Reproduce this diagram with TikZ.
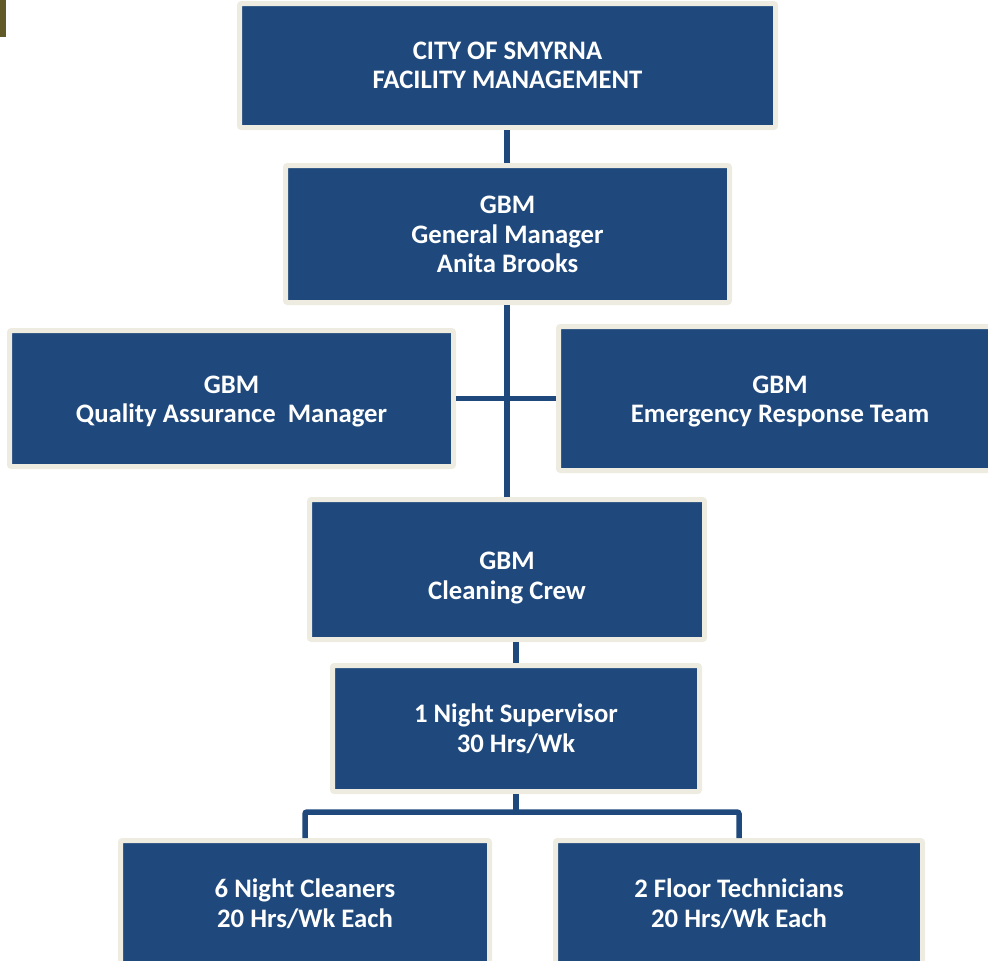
\documentclass[tikz,border=0pt]{standalone}
\usepackage{fontspec}
\setmainfont{Carlito}
\definecolor{boxblue}{RGB}{31,73,125}
\definecolor{boxcream}{RGB}{238,236,225}
\definecolor{olivemark}{RGB}{98,90,38}
\begin{document}
\begin{tikzpicture}[x=1pt,y=-1pt,
  orgbox/.style={draw=boxcream,fill=boxblue,line width=5pt,rounded corners=2pt,inner sep=0pt},
  boxtext/.style={text=white,align=center,inner sep=0pt,
    font=\fontsize{26.7}{29.5}\selectfont\bfseries},
  link/.style={draw=boxblue,line width=5.5pt}]
\useasboundingbox (0,0) rectangle (988,961);
\clip (0,0) rectangle (988,961);
\fill[olivemark] (0,0) rectangle (6,37);
\node[orgbox,minimum width=536pt,minimum height=124pt,
  label={[boxtext]center:{CITY OF SMYRNA\\FACILITY MANAGEMENT}}] (top) at (507.5,65.5) {};
\node[orgbox,minimum width=444pt,minimum height=137pt,
  label={[boxtext,yshift=-0.5pt]center:{GBM\\General Manager\\Anita Brooks}}] (gm) at (507.5,234) {};
\node[orgbox,minimum width=444pt,minimum height=136pt,
  label={[boxtext,yshift=-3pt]center:{GBM\\Quality Assurance\ \ Manager}}] (qa) at (231.5,398.5) {};
\node[orgbox,minimum width=443pt,minimum height=144pt,
  label={[boxtext,yshift=-3pt]center:{GBM\\Emergency Response Team}}] (ert) at (780,398.5) {};
\node[orgbox,minimum width=395pt,minimum height=140pt,
  label={[boxtext,yshift=-8.5pt]center:{GBM\\Cleaning Crew}}] (cc) at (507,569.5) {};
\node[orgbox,minimum width=367pt,minimum height=126pt,
  label={[boxtext]center:{1 Night Supervisor\\30 Hrs/Wk}}] (ns) at (516,728.5) {};
\node[orgbox,minimum width=369pt,minimum height=123pt,
  label={[boxtext,yshift=-1.5pt]center:{6 Night Cleaners\\20 Hrs/Wk Each}}] (nc) at (305,902) {};
\node[orgbox,minimum width=367pt,minimum height=123pt,
  label={[boxtext,yshift=-1.5pt]center:{2 Floor Technicians\\20 Hrs/Wk Each}}] (ft) at (739,902) {};
\coordinate (j) at (516,812);
\draw[link] (top.south -| 507,0) -- (gm.north -| 507,0);
\draw[link] (gm.south -| 507,0) -- (cc.north -| 507,0);
\draw[link] (qa.east) -- (ert.west);
\draw[link] (cc.south -| ns.north) -- (ns.north);
\draw[link] (ns.south) -- (j);
\draw[link,rounded corners=2pt] (nc.north) -- (nc.north |- j) -- (ft.north |- j) -- (ft.north);
\end{tikzpicture}
\end{document}
